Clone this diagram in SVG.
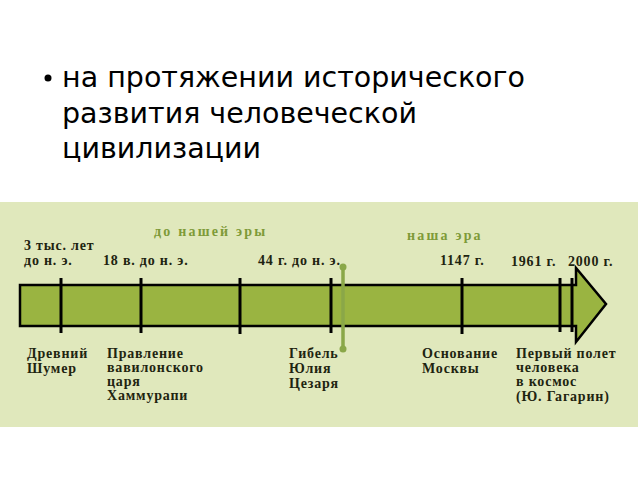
<svg xmlns="http://www.w3.org/2000/svg" width="640" height="480" viewBox="0 0 640 480">
<style>
.bul{font-family:"DejaVu Sans",sans-serif;font-size:28.5px;fill:#000}
.t{font-family:"Liberation Serif",serif;font-weight:bold;font-size:14px;letter-spacing:0.8px;fill:#1e2410}
.era{font-family:"Liberation Serif",serif;font-weight:bold;font-size:14px;fill:#7e9a38;letter-spacing:2.2px}
.tick{stroke:#000;stroke-width:3}
</style>
<rect width="640" height="480" fill="#fff"/>
<g id="title">
<circle cx="48" cy="78" r="3.5" fill="#000"/>
<text class="bul" x="62" y="87">на протяжении исторического</text>
<text class="bul" x="62" y="123">развития человеческой</text>
<text class="bul" x="62" y="158">цивилизации</text>
</g>
<rect x="0" y="202" width="638" height="225" fill="#e0e8bc"/>
<g id="arrow">
<path d="M20,285 H576 V268 L606,304 L576,342 V326 H20 Z" fill="#9ab441" stroke="#000" stroke-width="2.5" stroke-linejoin="miter"/>
</g>
<g id="connectors">
<line class="tick" x1="61" y1="278" x2="61" y2="333"/>
<line class="tick" x1="141" y1="278" x2="141" y2="333"/>
<line class="tick" x1="240" y1="278" x2="240" y2="334"/>
<line class="tick" x1="331" y1="278" x2="331" y2="333"/>
<line class="tick" x1="462" y1="278" x2="462" y2="334"/>
<line class="tick" x1="560" y1="278" x2="560" y2="332"/>
<line class="tick" x1="572" y1="278" x2="572" y2="332"/>
<line x1="343" y1="267" x2="343" y2="348" stroke="#8aa748" stroke-width="3.5"/>
<circle cx="343" cy="267" r="3.5" fill="#8aa748"/>
<circle cx="343" cy="349" r="3.5" fill="#8aa748"/>
</g>
<g id="era-labels">
<text class="era" x="154" y="236">до нашей эры</text>
<text class="era" x="407" y="240">наша эра</text>
</g>
<g id="dates">
<text class="t" x="24" y="250">3 тыс. лет</text>
<text class="t" x="24" y="265">до н. э.</text>
<text class="t" x="103" y="265">18 в. до н. э.</text>
<text class="t" x="258" y="265">44 г. до н. э.</text>
<text class="t" x="440" y="265">1147 г.</text>
<text class="t" x="511" y="266">1961 г.</text>
<text class="t" x="568" y="266">2000 г.</text>
</g>
<g id="events">
<text class="t" x="27" y="358">Древний</text>
<text class="t" x="27" y="373">Шумер</text>
<text class="t" x="107" y="358">Правление</text>
<text class="t" x="107" y="372">вавилонского</text>
<text class="t" x="107" y="386">царя</text>
<text class="t" x="107" y="400">Хаммурапи</text>
<text class="t" x="289" y="358">Гибель</text>
<text class="t" x="289" y="373">Юлия</text>
<text class="t" x="289" y="388">Цезаря</text>
<text class="t" x="422" y="358">Основание</text>
<text class="t" x="422" y="373">Москвы</text>
<text class="t" x="516" y="358">Первый полет</text>
<text class="t" x="516" y="372">человека</text>
<text class="t" x="516" y="386">в космос</text>
<text class="t" x="516" y="401">(Ю. Гагарин)</text>
</g>
</svg>
